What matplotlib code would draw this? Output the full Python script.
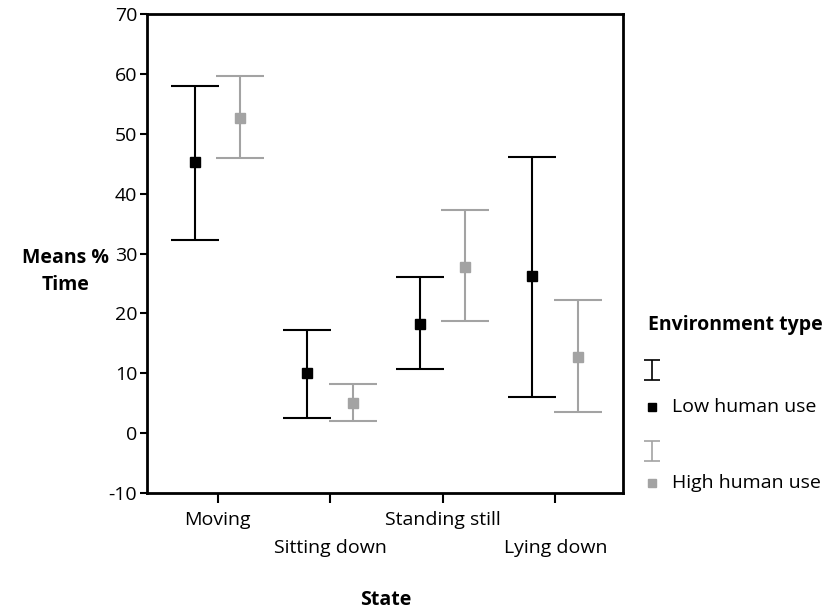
import matplotlib.pyplot as plt
import numpy as np

plt.rcParams['font.family'] = ['Open Sans', 'DejaVu Sans']
plt.rcParams['axes.unicode_minus'] = False

states = ["Moving", "Sitting down", "Standing still", "Lying down"]
low_mean = [45.3, 10.0, 18.3, 26.2]
low_upper = [58.0, 17.3, 26.0, 46.2]
low_lower = [32.2, 2.5, 10.7, 6.0]
high_mean = [52.7, 5.0, 27.8, 12.8]
high_upper = [59.7, 8.2, 37.3, 22.3]
high_lower = [46.0, 2.0, 18.7, 3.5]

black = "#000000"
gray = "#a3a3a3"
fs = 14

fig = plt.figure(figsize=(8.25, 6.12), dpi=100)
ax = fig.add_axes([0.178, 0.1944, 0.577, 0.7826])

x = np.arange(len(states))
low_mean = np.array(low_mean)
high_mean = np.array(high_mean)
low_err = [low_mean - np.array(low_lower), np.array(low_upper) - low_mean]
high_err = [high_mean - np.array(high_lower), np.array(high_upper) - high_mean]

ax.errorbar(x - 0.205, low_mean, yerr=low_err, fmt="s", color=black, ms=7.5,
            elinewidth=1.5, capsize=17, capthick=1.5)
ax.errorbar(x + 0.2, high_mean, yerr=high_err, fmt="s", color=gray, ms=7.5,
            elinewidth=1.5, capsize=17, capthick=1.5)

ax.set_xlim(-0.63, 3.6)
ax.set_ylim(-10, 70)
ax.set_yticks(np.arange(-10, 71, 10))
ax.tick_params(axis="y", labelsize=fs, length=5, width=1.5, pad=2)
ax.set_xticks(x)
ax.set_xticklabels(["", "", "", ""])
ax.tick_params(axis="x", length=7, width=1.5)
for i, s in enumerate(states):
    off = -0.056 if i % 2 == 0 else -0.114
    ax.text(i, off, s, transform=ax.get_xaxis_transform(), ha="center",
            va="center", fontsize=fs)
for sp in ax.spines.values():
    sp.set_linewidth(2)

fig.text(0.079, 0.556, "Means %\nTime", ha="center", va="center",
         fontsize=fs, fontweight="bold", linespacing=1.5)
fig.text(0.467, 0.02, "State", ha="center", va="center",
         fontsize=fs, fontweight="bold")

# legend
fig.text(0.786, 0.469, "Environment type", ha="left", va="center",
         fontsize=fs, fontweight="bold")
lax = fig.add_axes([0.77, 0.16, 0.23, 0.30])
lax.set_xlim(0, 190)
lax.set_ylim(184, 0)
lax.axis("off")
lax.errorbar([17], [40], yerr=[[10], [10]], fmt="none", color=black,
             elinewidth=1.2, capsize=6, capthick=1.2)
lax.plot([17], [77], "s", color=black, ms=5.5)
lax.text(37, 77, "Low human use", va="center", fontsize=fs)
lax.errorbar([17], [121], yerr=[[10], [10]], fmt="none", color=gray,
             elinewidth=1.2, capsize=6, capthick=1.2)
lax.plot([17], [153], "s", color=gray, ms=5.5)
lax.text(37, 153, "High human use", va="center", fontsize=fs)

fig.savefig("out.png", dpi=100)
